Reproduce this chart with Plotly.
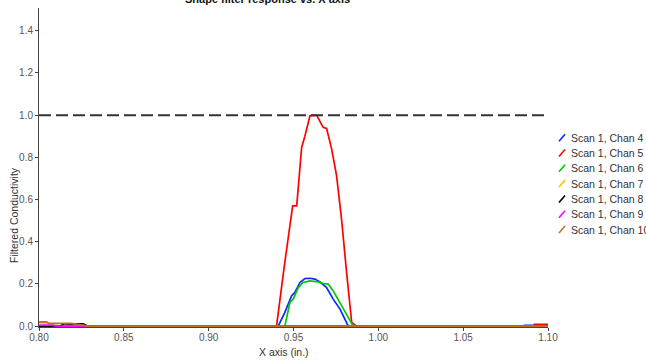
import plotly.graph_objects as go

# ---------------- data ----------------
names = ["Scan 1, Chan 4", "Scan 1, Chan 5", "Scan 1, Chan 6", "Scan 1, Chan 7",
         "Scan 1, Chan 8", "Scan 1, Chan 9", "Scan 1, Chan 10"]
colors = ["#0a28ff", "#ff0000", "#00c800", "#ffc000", "#000000", "#ff00ff", "#b8731f"]

chan4_x = [0.800, 0.816, 0.817, 0.821, 0.822, 0.941, 0.9449, 0.9489, 0.9508, 0.9538, 0.9567,
           0.9597, 0.9626, 0.9656, 0.9695, 0.9734, 0.9774, 0.9823, 1.0856, 1.0860, 1.0915, 1.0920, 1.100]
chan4_y = [0.0, 0.0, 0.005, 0.005, 0.0, 0.0, 0.065, 0.144, 0.160, 0.207, 0.226,
           0.227, 0.223, 0.210, 0.183, 0.128, 0.081, 0.0, 0.0, 0.004, 0.004, 0.0, 0.0]

chan5_x = [0.800, 0.940, 0.9445, 0.9495, 0.9519, 0.9538, 0.9548, 0.9567, 0.9597, 0.9636,
           0.9675, 0.9695, 0.9725, 0.9754, 0.9784, 0.9813, 0.9843, 0.9872, 1.0915, 1.0920, 1.100]
chan5_y = [0.0, 0.0, 0.28, 0.57, 0.57, 0.73, 0.847, 0.90, 0.997, 1.0,
           0.942, 0.937, 0.839, 0.712, 0.50, 0.254, 0.018, 0.0, 0.0, 0.008, 0.008]

chan6_x = [0.800, 0.9430, 0.9449, 0.9479, 0.9498, 0.9528, 0.9557, 0.9597, 0.9646, 0.9675,
           0.9705, 0.9734, 0.9784, 0.9833, 0.9852, 1.100]
chan6_y = [0.0, 0.0, 0.0, 0.112, 0.128, 0.183, 0.207, 0.215, 0.210, 0.202,
           0.199, 0.167, 0.096, 0.025, 0.0, 0.0]

chan7_x = [0.800, 0.804, 0.807, 0.812, 1.100]
chan7_y = [0.016, 0.016, 0.009, 0.0, 0.0]

chan8_x = [0.800, 0.812, 0.815, 0.826, 0.829, 1.100]
chan8_y = [0.0, 0.0, 0.011, 0.011, 0.0, 0.0]

chan9_x = [0.800, 0.808, 0.810, 1.100]
chan9_y = [0.005, 0.005, 0.0, 0.0]

chan10_x = [0.800, 0.8045, 0.806, 0.819, 0.829, 1.100]
chan10_y = [0.020, 0.020, 0.013, 0.013, 0.0, 0.0]

series_x = [chan4_x, chan5_x, chan6_x, chan7_x, chan8_x, chan9_x, chan10_x]
series_y = [chan4_y, chan5_y, chan6_y, chan7_y, chan8_y, chan9_y, chan10_y]

reference_level = 1.0
x_ticks = [0.80, 0.85, 0.90, 0.95, 1.00, 1.05, 1.10]
y_ticks = [0.0, 0.2, 0.4, 0.6, 0.8, 1.0, 1.2, 1.4]

title_text = "Shape filter response vs. X axis"
x_title = "X axis (in.)"
y_title = "Filtered Conductivity"

# ---------------- figure ----------------
W, H = 646, 361
ML, MR, MT, MB = 39, 98, 8, 34
PW, PH = W - ML - MR, H - MT - MB

def px_to_paper_x(px):
    return (px - ML) / PW

def px_to_paper_y(py):
    return (H - MB - py) / PH

fig = go.Figure()
for xs, ys, nm, col in zip(series_x, series_y, names, colors):
    fig.add_trace(go.Scatter(x=xs, y=ys, mode="lines", name=nm,
                             line=dict(color=col, width=1.7), showlegend=False))

axis_col = "#444444"
tick_font = dict(family="Liberation Sans, Arial, sans-serif", size=10, color="#555555")

fig.update_layout(
    width=W, height=H,
    margin=dict(l=ML, r=MR, t=MT, b=MB, pad=0),
    paper_bgcolor="white", plot_bgcolor="white",
    showlegend=False,
    xaxis=dict(range=[0.80, 1.10], tickvals=x_ticks, ticktext=[f"{v:.2f}" for v in x_ticks],
               showgrid=False, zeroline=False, showline=True, linecolor=axis_col, linewidth=1,
               ticks="outside", ticklen=3, tickcolor=axis_col, tickfont=tick_font,
               ticklabelstandoff=-2),
    yaxis=dict(range=[-0.004, 1.508], tickvals=y_ticks, ticktext=[f"{v:.1f}" for v in y_ticks],
               showgrid=False, zeroline=False, showline=True, linecolor=axis_col, linewidth=1,
               ticks="outside", ticklen=3, tickcolor=axis_col, tickfont=tick_font),
)

# dashed reference line
fig.add_shape(type="line", xref="paper", x0=0, x1=1, yref="y", y0=reference_level, y1=reference_level,
              line=dict(color="#333333", width=2, dash="12px,5px"))

# title and axis titles
fig.add_annotation(text="<b>" + title_text + "</b>", xref="paper", yref="paper",
                   x=px_to_paper_x(267.5), y=1, xanchor="center", yanchor="bottom", yshift=1,
                   showarrow=False, font=dict(family="Liberation Sans, Arial, sans-serif", size=11, color="#111111"))
fig.add_annotation(text=x_title, xref="paper", yref="paper",
                   x=px_to_paper_x(284), y=px_to_paper_y(352), xanchor="center", yanchor="middle",
                   showarrow=False, font=dict(family="Liberation Sans, Arial, sans-serif", size=10.5, color="#333333"))
fig.add_annotation(text=y_title, xref="paper", yref="paper", textangle=-90,
                   x=px_to_paper_x(14), y=px_to_paper_y(215), xanchor="center", yanchor="middle",
                   showarrow=False, font=dict(family="Liberation Sans, Arial, sans-serif", size=10.5, color="#333333"))

# custom legend with slanted line symbols
for i, (nm, col) in enumerate(zip(names, colors)):
    yc = 137.7 + 15.3 * i
    fig.add_shape(type="line", xref="paper", yref="paper",
                  x0=px_to_paper_x(559), y0=px_to_paper_y(yc + 3.5),
                  x1=px_to_paper_x(565), y1=px_to_paper_y(yc - 3.5),
                  line=dict(color=col, width=1.6))
    fig.add_annotation(text=nm, xref="paper", yref="paper",
                       x=px_to_paper_x(568.5), y=px_to_paper_y(yc), xanchor="left", yanchor="middle",
                       showarrow=False, font=dict(family="Liberation Sans, Arial, sans-serif", size=10.5, color="#333333"))

fig.write_html("out.html")
